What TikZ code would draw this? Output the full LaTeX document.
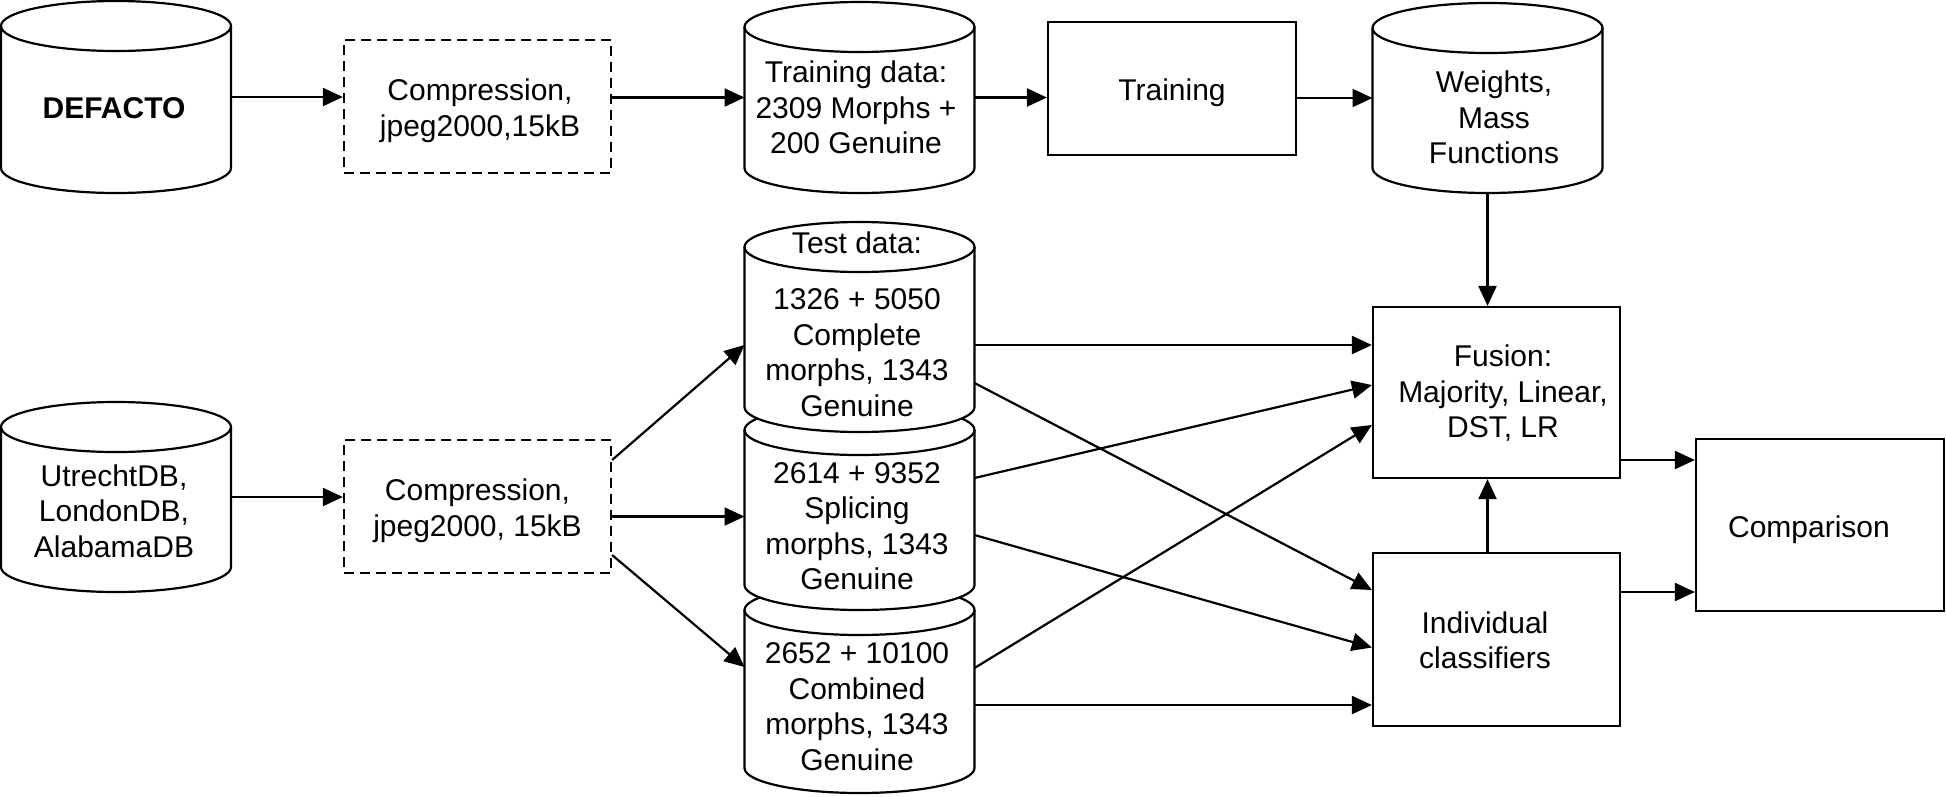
\documentclass[tikz,border=0pt]{standalone}
\usepackage{fontspec}
\setmainfont{Liberation Sans}
\usetikzlibrary{arrows.meta,backgrounds}
\newcommand\drawcyl[1]{%
  \path[cylline,fill=white] ([yshift=-25pt]#1.north west) -- ([yshift=25pt]#1.south west)
    arc[start angle=180,end angle=360,x radius=115pt,y radius=25pt]
    -- ([yshift=-25pt]#1.north east)
    arc[start angle=0,end angle=180,x radius=115pt,y radius=25pt] -- cycle;
  \draw[cylline] ([yshift=-25pt]#1.north west)
    arc[start angle=180,end angle=360,x radius=115pt,y radius=25pt];}
\tikzset{
  cylline/.style={draw,line width=2.2pt},
  txt/.style={align=center,font=\fontsize{30}{35.5}\selectfont,inner sep=0pt},
  cylnode/.style={minimum width=230pt,inner sep=0pt,outer sep=0pt},
  box/.style={draw,line width=2.2pt,inner sep=0pt},
  dbox/.style={box,dash pattern=on 10pt off 6pt,minimum width=267pt,minimum height=133pt},
  arr/.style={-{Triangle[length=20pt,width=18pt]},line width=2.2pt}
}
\begin{document}
\begin{tikzpicture}[x=1pt,y=-1pt]
\useasboundingbox (0,0) rectangle (1946,796);
% cylinders
\node[cylnode,minimum height=192pt,label={[txt,xshift=-2pt,yshift=-11pt]center:{\bfseries DEFACTO}}] (defacto) at (116,97) {};
\node[cylnode,minimum height=191pt,label={[txt,xshift=-3.5pt,yshift=-10pt]center:{Training data:\\2309 Morphs +\\200 Genuine}}] (traindata) at (859.5,97.5) {};
\node[cylnode,minimum height=190pt,label={[txt,xshift=6.5pt,yshift=-19.5pt]center:{Weights,\\Mass\\Functions}}] (weights) at (1487.5,98) {};
\node[cylnode,minimum height=190pt,label={[txt,xshift=-2pt,yshift=-14pt]center:{UtrechtDB,\\LondonDB,\\AlabamaDB}}] (utrecht) at (116,497) {};
\node[cylnode,minimum height=210pt,
  label={[txt,xshift=-2.5pt,yshift=-25.5pt]center:{1326 + 5050\\Complete\\morphs, 1343\\Genuine}},
  label={[txt,xshift=-2.5pt,yshift=84pt]center:{Test data:}}] (test1) at (859.5,327) {};
\node[cylnode,minimum height=205pt,label={[txt,xshift=-2.5pt,yshift=-18.5pt]center:{2614 + 9352\\Splicing\\morphs, 1343\\Genuine}}] (test2) at (859.5,507.5) {};
\node[cylnode,minimum height=208pt,label={[txt,xshift=-2.5pt,yshift=-17.5pt]center:{2652 + 10100\\Combined\\morphs, 1343\\Genuine}}] (test3) at (859.5,689) {};
% boxes
\node[dbox,label={[txt,xshift=2.5pt,yshift=-4pt]center:{Compression,\\jpeg2000,15kB}}] (comp1) at (477.5,106.5) {};
\node[dbox,label={[txt,yshift=-4pt]center:{Compression,\\jpeg2000, 15kB}}] (comp2) at (477.5,506.5) {};
\node[box,minimum width=248pt,minimum height=133pt,label={[txt,yshift=-4.5pt]center:{Training}}] (training) at (1172,88.5) {};
\node[box,minimum width=247pt,minimum height=171pt,label={[txt,xshift=6.5pt,yshift=-1pt]center:{Fusion:\\Majority, Linear,\\DST, LR}}] (fusion) at (1496.5,392.5) {};
\node[box,minimum width=247pt,minimum height=173pt,label={[txt,xshift=-11.5pt,yshift=-1pt]center:{Individual\\classifiers}}] (indiv) at (1496.5,639.5) {};
\node[box,minimum width=248pt,minimum height=172pt,label={[txt,xshift=-11pt,yshift=-5pt]center:{Comparison}}] (comparison) at (1820,525) {};
\begin{pgfonlayer}{background}
\fill[white] (0,0) rectangle (1946,796);
\drawcyl{defacto}
\drawcyl{traindata}
\drawcyl{weights}
\drawcyl{utrecht}
\drawcyl{test3}
\drawcyl{test2}
\drawcyl{test1}
\end{pgfonlayer}
% connectors
\draw[arr] (defacto.east) -- (defacto.east -| comp1.west);
\draw[arr] (traindata.west -| comp1.east) -- (traindata.west);
\draw[arr] (traindata.east) -- (traindata.east -| training.west);
\draw[arr] (weights.west -| training.east) -- (weights.west);
\draw[arr] (weights.south) -- (weights.south |- fusion.north);
\draw[arr] (utrecht.east) -- (utrecht.east -| comp2.west);
\draw[arr] ([yshift=46.5pt]comp2.east) -- ([yshift=-18pt]test1.west);
\draw[arr] ([yshift=-10pt]comp2.east) -- ([yshift=-10pt]comp2.east -| test2.west);
\draw[arr] ([yshift=-48.5pt]comp2.east) -- ([yshift=22pt]test3.west);
\draw[arr] ([yshift=-18pt]test1.east) -- ([yshift=-18pt]test1.east -| fusion.west);
\draw[arr] ([yshift=-56pt]test1.east) -- ([yshift=49.5pt]indiv.west);
\draw[arr] ([yshift=29.5pt]test2.east) -- ([yshift=7.5pt]fusion.west);
\draw[arr] ([yshift=-27.5pt]test2.east) -- ([yshift=-8pt]indiv.west);
\draw[arr] ([yshift=21pt]test3.east) -- ([yshift=-32.5pt]fusion.west);
\draw[arr] ([yshift=-16pt]test3.east) -- ([yshift=-16pt]test3.east -| indiv.west);
\draw[arr] (indiv.north -| weights.south) -- (fusion.south -| weights.south);
\draw[arr] ([yshift=-67.5pt]fusion.east) -- ([yshift=-67.5pt]fusion.east -| comparison.west);
\draw[arr] ([yshift=47.5pt]indiv.east) -- ([yshift=47.5pt]indiv.east -| comparison.west);
\end{tikzpicture}
\end{document}
